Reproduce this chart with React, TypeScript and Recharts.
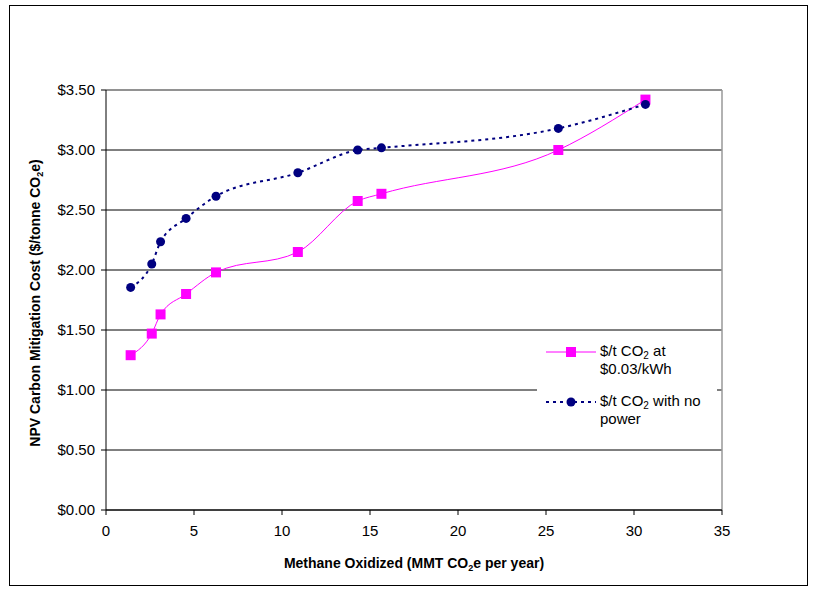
import React from 'react';
import {
  LineChart,
  Line,
  XAxis,
  YAxis,
  CartesianGrid,
  ReferenceLine,
} from 'recharts';

// Methane oxidized (MMT CO2e per year)
const methaneOxidized = [1.4, 2.6, 3.1, 4.55, 6.25, 10.9, 14.3, 15.65, 25.7, 30.65];
// $/t CO2 at $0.03/kWh
const costWithPower = [1.29, 1.47, 1.63, 1.8, 1.98, 2.15, 2.575, 2.635, 3.0, 3.42];
// $/t CO2 with no power
const costNoPower = [1.855, 2.05, 2.235, 2.43, 2.615, 2.81, 3.0, 3.018, 3.18, 3.38];

const xTicks = [0, 5, 10, 15, 20, 25, 30, 35];
const yTicks = [0, 0.5, 1, 1.5, 2, 2.5, 3, 3.5];

const data = methaneOxidized.map((x, i) => ({
  x,
  power: costWithPower[i],
  noPower: costNoPower[i],
}));

const FONT = 'Arial, "Liberation Sans", sans-serif';
const PINK = '#FF00FF';
const NAVY = '#000080';

const SquareDot = (props: any) => {
  const { cx, cy } = props;
  if (cx == null || cy == null) return null;
  return <rect x={cx - 5} y={cy - 5} width={10} height={10} fill={PINK} />;
};

const subStyle: React.CSSProperties = { fontSize: 10, verticalAlign: '-3px', lineHeight: 0 };

const LegendBox = () => (
  <div
    style={{
      position: 'absolute',
      left: 537,
      top: 334,
      width: 180,
      height: 98,
      background: '#fff',
      fontFamily: FONT,
      fontSize: 15,
      color: '#000',
      lineHeight: '18px',
      boxSizing: 'border-box',
      paddingTop: 8,
    }}
  >
    <div style={{ display: 'flex', alignItems: 'flex-start', height: 18 * 2, marginBottom: 14 }}>
      <svg width={63} height={18} style={{ flex: 'none' }}>
        <line x1={9} y1={10} x2={59} y2={10} stroke={PINK} strokeWidth={1} />
        <rect x={29} y={5} width={10} height={10} fill={PINK} />
      </svg>
      <div>
        $/t CO<sub style={subStyle}>2</sub> at
        <br />
        $0.03/kWh
      </div>
    </div>
    <div style={{ display: 'flex', alignItems: 'flex-start' }}>
      <svg width={63} height={18} style={{ flex: 'none' }}>
        <line x1={9} y1={10} x2={59} y2={10} stroke={NAVY} strokeWidth={2} strokeDasharray="3 4" />
        <circle cx={34} cy={10} r={4.5} fill={NAVY} />
      </svg>
      <div>
        $/t CO<sub style={subStyle}>2</sub> with no
        <br />
        power
      </div>
    </div>
  </div>
);

export default function App() {
  return (
    <div style={{ position: 'absolute', left: 0, top: 0, width: 817, height: 592, background: '#fff' }}>
      <div
        style={{
          position: 'absolute',
          left: 9,
          top: 5,
          width: 799,
          height: 581,
          border: '1px solid #000',
          boxSizing: 'border-box',
        }}
      />
      <div style={{ position: 'absolute', left: 0, top: 0 }}>
        <LineChart
          width={817}
          height={592}
          data={data}
          margin={{ top: 90, right: 95, bottom: 52, left: 0 }}
        >
          <CartesianGrid vertical={false} stroke="#000" strokeWidth={1} />
          <XAxis
            dataKey="x"
            type="number"
            domain={[0, 35]}
            ticks={xTicks}
            height={30}
            stroke="#000"
            tickSize={5}
            tick={{ fill: '#000', fontSize: 15, fontFamily: FONT }}
            tickMargin={10}
          />
          <YAxis
            type="number"
            domain={[0, 3.5]}
            ticks={yTicks}
            width={106}
            stroke="#000"
            tickSize={5}
            tickMargin={6}
            tick={{ fill: '#000', fontSize: 15, fontFamily: FONT }}
            tickFormatter={(v: number) => `$${v.toFixed(2)}`}
          />
          <ReferenceLine y={3.5} stroke="#999" strokeWidth={1.5} />
          <ReferenceLine x={35} stroke="#999" strokeWidth={1.5} />
          <Line
            type="monotone"
            dataKey="power"
            stroke={PINK}
            strokeWidth={1}
            dot={<SquareDot />}
            activeDot={false}
            isAnimationActive={false}
          />
          <Line
            type="monotone"
            dataKey="noPower"
            stroke={NAVY}
            strokeWidth={2}
            strokeDasharray="3 4"
            dot={{ r: 4.5, fill: NAVY, stroke: NAVY, strokeWidth: 0 }}
            activeDot={false}
            isAnimationActive={false}
          />
          <text
            x={414}
            y={568}
            textAnchor="middle"
            fontFamily={FONT}
            fontSize={14}
            fontWeight="bold"
            fill="#000"
          >
            Methane Oxidized (MMT CO<tspan dy={3} fontSize={9}>2</tspan>
            <tspan dy={-3}>e per year)</tspan>
          </text>
          <text
            x={40}
            y={303}
            transform="rotate(-90, 40, 303)"
            textAnchor="middle"
            fontFamily={FONT}
            fontSize={14}
            fontWeight="bold"
            fill="#000"
          >
            NPV Carbon Mitigation Cost ($/tonne CO<tspan dy={3} fontSize={9}>2</tspan>
            <tspan dy={-3}>e)</tspan>
          </text>
        </LineChart>
      </div>
      <LegendBox />
    </div>
  );
}
